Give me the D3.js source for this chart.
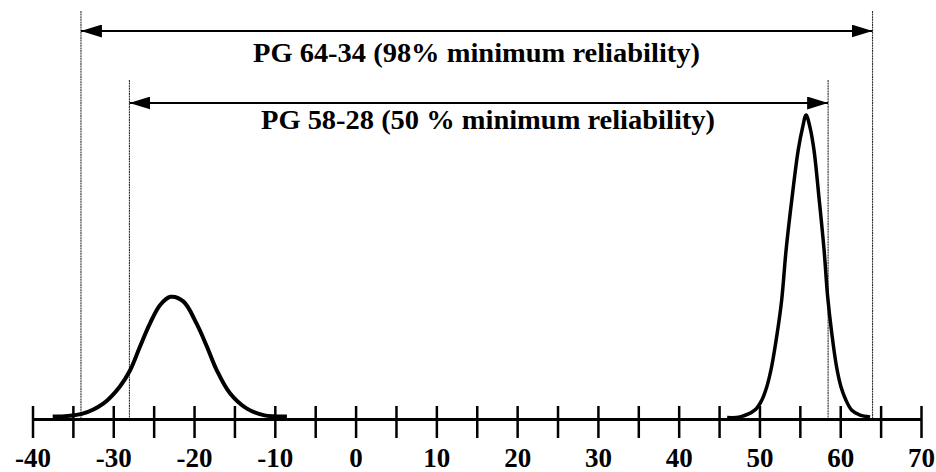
<!DOCTYPE html>
<html>
<head>
<meta charset="utf-8">
<script src="https://cdn.jsdelivr.net/npm/d3@7"></script>
<style>
  html, body { margin: 0; padding: 0; background: #fff; }
  svg { display: block; }
</style>
</head>
<body>
<svg id="chart" width="936" height="472"></svg>
<script>
// ---- data ----
const tickValues = [-40,-35,-30,-25,-20,-15,-10,-5,0,5,10,15,20,25,30,35,40,45,50,55,60,65,70];
const tickLabels = [-40,-30,-20,-10,0,10,20,30,40,50,60,70];

// temperature distributions (x = temperature, h = relative frequency)
const lowTempX = [-37.5,-33.9,-31.2,-29.2,-27.9,-26.7,-25.45,-24.2,-22.9,-21.3,-19.7,-18.4,-17.2,-15.55,-13.5,-11.4,-8.5];
const lowTempH = [0.3,1.2,4.7,10.2,15.7,23.4,31.1,37.2,39.9,38.3,31.1,23.4,15.7,8.0,3.0,0.8,0.3];

const highTempX = [46.0,47.6,49.45,50.3,50.9,51.5,52.2,52.75,53.3,54.0,54.8,55.35,55.77,56.25,56.75,57.4,58.0,58.45,58.95,59.55,60.1,60.7,61.4,62.45,63.7];
const highTempH = [0.0,0.2,2.5,5.8,10.1,16.7,27.9,38.8,55.4,71.9,88.4,96,100,96,88.4,71.9,55.4,39.8,27.9,16.7,10.1,5.8,2.5,0.8,0.2];

// performance grade limits
const gradeLabels = ["PG 64-34 (98% minimum reliability)", "PG 58-28 (50 % minimum reliability)"];
const gradeLow  = [-34, -28];
const gradeHigh = [64, 58.5];

// ---- drawing ----
const FONT = "Liberation Serif";
const svg = d3.select("#chart");
const x = d3.scaleLinear().domain([-40, 70]).range([32.5, 921]);
const y = d3.scaleLinear().domain([0, 100]).range([417.5, 115]);
const axisY = 419;

const lineTops = [11, 80];
const arrowY = [31, 103];
const textBase = [62, 129];
const textLeft = [253, 261];
const textW = [447, 454];

// vertical limit lines
gradeLabels.forEach((lab, i) => {
  [gradeLow[i], gradeHigh[i]].forEach(v => {
    svg.append("line")
      .attr("x1", x(v)).attr("x2", x(v))
      .attr("y1", lineTops[i]).attr("y2", axisY)
      .attr("stroke", "#333").attr("stroke-width", 1.1)
      .attr("stroke-dasharray", "2,0.6");
  });
});

// arrows
const defs = svg.append("defs");
defs.append("marker").attr("id", "ah")
  .attr("viewBox", "0 0 21 13").attr("refX", 21).attr("refY", 6.5)
  .attr("markerWidth", 21).attr("markerHeight", 13)
  .attr("markerUnits", "userSpaceOnUse").attr("orient", "auto-start-reverse")
  .append("path").attr("d", "M0,0 L21,6.5 L0,13 Z").attr("fill", "#000");

gradeLabels.forEach((lab, i) => {
  svg.append("line")
    .attr("x1", x(gradeLow[i])).attr("x2", x(gradeHigh[i]))
    .attr("y1", arrowY[i]).attr("y2", arrowY[i])
    .attr("stroke", "#000").attr("stroke-width", 2)
    .attr("marker-start", "url(#ah)").attr("marker-end", "url(#ah)");
  svg.append("text")
    .attr("x", textLeft[i]).attr("y", textBase[i])
    .attr("text-anchor", "start")
    .attr("textLength", textW[i]).attr("lengthAdjust", "spacingAndGlyphs")
    .attr("font-family", FONT).attr("font-weight", "bold").attr("font-size", 28)
    .style("font-family", FONT).style("font-weight", "bold").style("font-size", "28px")
    .style("fill", "#000")
    .text(lab);
});

// axis
const axis = d3.axisBottom(x)
  .tickValues(tickValues)
  .tickSizeOuter(0)
  .tickSizeInner(19)
  .tickFormat(d => tickLabels.includes(d) ? String(d) : "");
const g = svg.append("g").attr("transform", `translate(0,${axisY})`).call(axis)
  .attr("font-family", FONT).attr("font-size", 27);
g.select(".domain").attr("stroke", "#000").attr("stroke-width", 3);
g.selectAll(".tick line").attr("y1", -13).attr("y2", 19).attr("stroke", "#000").attr("stroke-width", 2.5);
g.selectAll(".tick text")
  .attr("y", 48).attr("dy", null)
  .attr("font-family", FONT).attr("font-weight", "bold").attr("font-size", 27)
  .style("font-family", FONT).style("font-weight", "bold").style("font-size", "27px")
  .style("fill", "#000");

// distribution curves
const line = d3.line().x(d => x(d[0])).y(d => y(d[1])).curve(d3.curveCatmullRom.alpha(0.5));
svg.append("path")
  .datum(d3.zip(lowTempX, lowTempH))
  .attr("d", line).attr("fill", "none").attr("stroke", "#000").attr("stroke-width", 4)
  .attr("stroke-linejoin", "round");
svg.append("path")
  .datum(d3.zip(highTempX, highTempH))
  .attr("d", line).attr("fill", "none").attr("stroke", "#000").attr("stroke-width", 3.5)
  .attr("stroke-linejoin", "round");
</script>
</body>
</html>
